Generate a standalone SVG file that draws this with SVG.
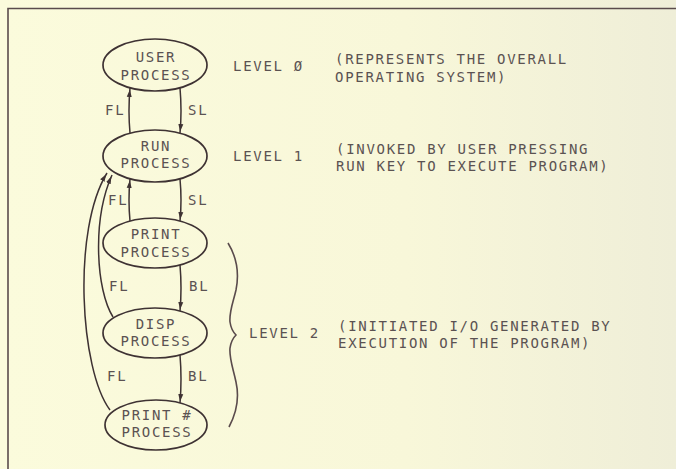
<svg xmlns="http://www.w3.org/2000/svg" width="676" height="469" viewBox="0 0 676 469">
<style>
.t{font-family:"DejaVu Sans Mono","Liberation Mono",monospace;font-size:14px;letter-spacing:1.7px;fill:#5b5252}
.n{text-anchor:middle}
.e{fill:none;stroke:#3e3233;stroke-width:1.7}
.c{fill:none;stroke:#3e3233;stroke-width:1.5}
.b{fill:none;stroke:#5a4b4c;stroke-width:1.6}
</style>
<defs>
<linearGradient id="bg" x1="0" y1="0" x2="1" y2="0">
<stop offset="0" stop-color="#fbfbdc"/>
<stop offset="0.6" stop-color="#f8f7d9"/>
<stop offset="1" stop-color="#efeed8"/>
</linearGradient>
<marker id="ah" viewBox="0 0 12 6" markerWidth="12" markerHeight="6" refX="9" refY="3" orient="auto" markerUnits="userSpaceOnUse">
<path d="M0,0.5 L7.5,3 L0,5.5 z" fill="#3e3233"/>
</marker>
</defs>
<rect width="676" height="469" fill="url(#bg)"/>
<g id="frame">
<path class="b" d="M8,469 L8,8.5 L676,8.5"/>
</g>
<g id="connectors">
<path class="c" d="M130,133 Q128,111 130,88" marker-end="url(#ah)"/>
<path class="c" d="M180,88 Q182,111 180,133" marker-end="url(#ah)"/>
<path class="c" d="M130,221 Q128,200 130,179" marker-end="url(#ah)"/>
<path class="c" d="M180,179 Q182,200 180,221" marker-end="url(#ah)"/>
<path class="c" d="M180,265 Q182,288 180,311" marker-end="url(#ah)"/>
<path class="c" d="M180,355 Q182,379 180,403" marker-end="url(#ah)"/>
<path class="c" d="M113,317 C96,290 92,220 112,175" marker-end="url(#ah)"/>
<path class="c" d="M110,410 C80,370 72,230 107,173" marker-end="url(#ah)"/>
<text class="t" x="105" y="115">FL</text>
<text class="t" x="188" y="115">SL</text>
<text class="t" x="108" y="205">FL</text>
<text class="t" x="188" y="205">SL</text>
<text class="t" x="109" y="291">FL</text>
<text class="t" x="189" y="291">BL</text>
<text class="t" x="107" y="381">FL</text>
<text class="t" x="188" y="381">BL</text>
</g>
<g id="user">
<ellipse class="e" cx="155" cy="65" rx="52" ry="26"/>
<text class="t n" x="156" y="62">USER</text>
<text class="t n" x="156" y="80">PROCESS</text>
</g>
<g id="run">
<ellipse class="e" cx="155" cy="156" rx="52" ry="26"/>
<text class="t n" x="156" y="151">RUN</text>
<text class="t n" x="156" y="168">PROCESS</text>
</g>
<g id="print">
<ellipse class="e" cx="155" cy="243" rx="52" ry="25"/>
<text class="t n" x="156" y="238.5">PRINT</text>
<text class="t n" x="156" y="256.5">PROCESS</text>
</g>
<g id="disp">
<ellipse class="e" cx="155" cy="333" rx="52" ry="25"/>
<text class="t n" x="156" y="328.5">DISP</text>
<text class="t n" x="156" y="346">PROCESS</text>
</g>
<g id="printhash">
<ellipse class="e" cx="156" cy="425" rx="51" ry="25"/>
<text class="t n" x="157" y="420">PRINT #</text>
<text class="t n" x="157" y="437">PROCESS</text>
</g>
<g id="level0">
<text class="t" x="233" y="71">LEVEL Ø</text>
<text class="t" x="335" y="64">(REPRESENTS THE OVERALL</text>
<text class="t" x="335" y="82">OPERATING SYSTEM)</text>
</g>
<g id="level1">
<text class="t" x="233" y="161">LEVEL 1</text>
<text class="t" x="336" y="154">(INVOKED BY USER PRESSING</text>
<text class="t" x="336" y="171">RUN KEY TO EXECUTE PROGRAM)</text>
</g>
<g id="level2">
<path class="b" d="M228,243 C236,256 240,270 236,290 C233,303 229,312 230,322 C231,329 234,333 236,335 C234,337 231,341 230,348 C229,358 233,368 236,382 C240,400 236,414 229,427"/>
<text class="t" x="249" y="338">LEVEL 2</text>
<text class="t" x="338" y="331">(INITIATED I/O GENERATED BY</text>
<text class="t" x="338" y="348">EXECUTION OF THE PROGRAM)</text>
</g>
</svg>
